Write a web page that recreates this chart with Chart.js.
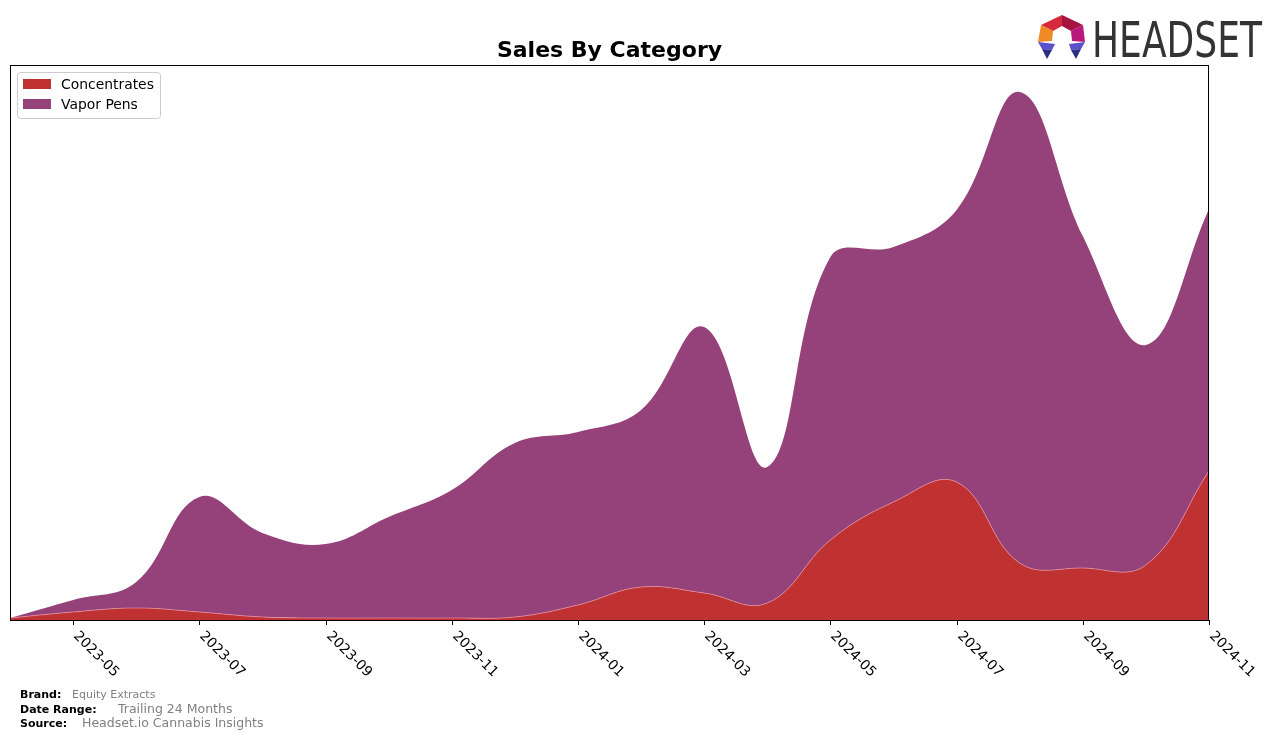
<!DOCTYPE html>
<html>
<head>
<meta charset="utf-8">
<script src="https://cdn.jsdelivr.net/npm/chart.js@4/dist/chart.umd.min.js"></script>
<style>
  html, body { margin: 0; padding: 0; background: #fff; }
  canvas { display: block; }
</style>
</head>
<body>
<canvas id="salesChart" width="1276" height="741"></canvas>
<script>
// months on the x axis (monthly points)
const months = ['2023-04', '2023-05', '2023-06', '2023-07', '2023-08', '2023-09', '2023-10',
  '2023-11', '2023-12', '2024-01', '2024-02', '2024-03', '2024-04', '2024-05', '2024-06',
  '2024-07', '2024-08', '2024-09', '2024-10', '2024-11'];
const tickLabels = ['2023-05', '2023-07', '2023-09', '2023-11', '2024-01', '2024-03',
  '2024-05', '2024-07', '2024-09', '2024-11'];

// sales (relative units)
const concentrates = [2, 8, 12, 8, 3, 2, 2, 2, 3, 15, 33, 27, 17, 80, 118, 138, 57, 52, 55, 149];
const vaporPens = [0, 12, 26, 115, 84, 74, 101, 128, 174, 173, 177, 266, 136, 283, 255, 272, 471, 332, 220, 262];

const seriesNames = ['Concentrates', 'Vapor Pens'];
const seriesColors = ['#c03232', '#96427a'];

const FONT = '"DejaVu Sans", sans-serif';

function drawLogo(ctx) {
  // hexagon ring icon
  const O = [[1062, 15], [1083, 25], [1085, 42], [1069, 44], [1055, 44], [1038, 42], [1041, 25]];
  const I = [[1062, 26], [1071, 31], [1072, 41], [1068, 44], [1056, 44], [1052, 41], [1053, 31]];
  const poly = (pts, col) => {
    ctx.beginPath();
    pts.forEach((p, i) => i ? ctx.lineTo(p[0], p[1]) : ctx.moveTo(p[0], p[1]));
    ctx.closePath();
    ctx.fillStyle = col;
    ctx.fill();
  };
  poly([O[6], O[0], I[0], I[6]], '#d62a3c');
  poly([O[0], O[1], I[1], I[0]], '#a5133f');
  poly([O[1], O[2], I[2], I[1]], '#b8177c');
  poly([O[6], I[6], I[5], O[5]], '#f08a24');
  // legs
  poly([[1038, 42], [1055, 44], [1052, 50], [1042, 49]], '#5a4fcc');
  poly([[1042, 49], [1052, 50], [1047, 59]], '#2c2d80');
  poly([[1069, 44], [1085, 42], [1081, 49], [1071, 50]], '#5a4fcc');
  poly([[1071, 50], [1081, 49], [1076, 59]], '#2c2d80');

  // wordmark
  ctx.save();
  ctx.fillStyle = '#333333';
  ctx.font = '50px ' + FONT;
  ctx.textBaseline = 'alphabetic';
  const w = ctx.measureText('HEADSET').width;
  ctx.translate(1092, 57);
  ctx.scale(170 / w, 1);
  ctx.fillText('HEADSET', 0, 0);
  ctx.restore();
}

const decor = {
  id: 'decor',
  afterDraw(chart) {
    const { ctx, chartArea: a, scales: { x } } = chart;
    ctx.save();

    // frame
    ctx.strokeStyle = '#000';
    ctx.lineWidth = 1;
    ctx.strokeRect(Math.round(a.left) + 0.5, Math.round(a.top) + 0.5,
      Math.round(a.right - a.left) - 1, Math.round(a.bottom - a.top));

    // x ticks + rotated labels
    ctx.font = '13.9px ' + FONT;
    ctx.fillStyle = '#000';
    tickLabels.forEach(lbl => {
      const px = Math.round(x.getPixelForValue(months.indexOf(lbl))) + 0.5;
      ctx.beginPath();
      ctx.moveTo(px, a.bottom);
      ctx.lineTo(px, a.bottom + 5);
      ctx.stroke();
      ctx.save();
      ctx.translate(px + 7, a.bottom + 9);
      ctx.rotate(Math.PI / 4);
      ctx.textAlign = 'left';
      ctx.textBaseline = 'top';
      ctx.fillText(lbl, 0, 0);
      ctx.restore();
    });

    // title
    ctx.font = 'bold 22px ' + FONT;
    ctx.textAlign = 'center';
    ctx.textBaseline = 'middle';
    ctx.fillText('Sales By Category', (a.left + a.right) / 2, 51);

    // legend
    ctx.fillStyle = 'rgba(255,255,255,0.8)';
    ctx.strokeStyle = '#cccccc';
    ctx.beginPath();
    ctx.roundRect(17.5, 72.5, 143, 46, 3);
    ctx.fill();
    ctx.stroke();
    ctx.font = '13.9px ' + FONT;
    ctx.textAlign = 'left';
    seriesNames.forEach((name, i) => {
      const y = 79 + i * 20;
      ctx.fillStyle = seriesColors[i];
      ctx.fillRect(23, y, 28, 10);
      ctx.fillStyle = '#000';
      ctx.fillText(name, 61, y + 6);
    });

    // footer
    const foot = [
      ['Brand:', 'Equity Extracts', 695, 72, 11],
      ['Date Range:', 'Trailing 24 Months', 710, 118, 12.5],
      ['Source:', 'Headset.io Cannabis Insights', 724, 82, 12.5]
    ];
    foot.forEach(([k, v, y, vx, vs]) => {
      ctx.fillStyle = '#000';
      ctx.font = 'bold 11px ' + FONT;
      ctx.fillText(k, 20, y);
      ctx.fillStyle = '#808080';
      ctx.font = vs + 'px ' + FONT;
      ctx.fillText(v, vx, y);
    });

    drawLogo(ctx);
    ctx.restore();
  }
};

new Chart(document.getElementById('salesChart').getContext('2d'), {
  type: 'line',
  data: {
    labels: months,
    datasets: [
      {
        label: seriesNames[0],
        data: concentrates,
        backgroundColor: seriesColors[0],
        borderColor: 'rgba(235,160,180,0.6)',
        borderWidth: 1,
        fill: 'origin',
        pointRadius: 0,
        tension: 0.4
      },
      {
        label: seriesNames[1],
        data: vaporPens,
        backgroundColor: seriesColors[1],
        borderWidth: 0,
        fill: '-1',
        pointRadius: 0,
        tension: 0.4
      }
    ]
  },
  options: {
    responsive: false,
    animation: false,
    devicePixelRatio: 1,
    layout: { padding: { left: 10, right: 67, top: 65, bottom: 121 } },
    plugins: { legend: { display: false }, tooltip: { enabled: false }, title: { display: false } },
    scales: {
      x: { display: false, offset: false },
      y: { display: false, stacked: true, min: 0, max: 555 }
    }
  },
  plugins: [decor]
});
</script>
</body>
</html>
